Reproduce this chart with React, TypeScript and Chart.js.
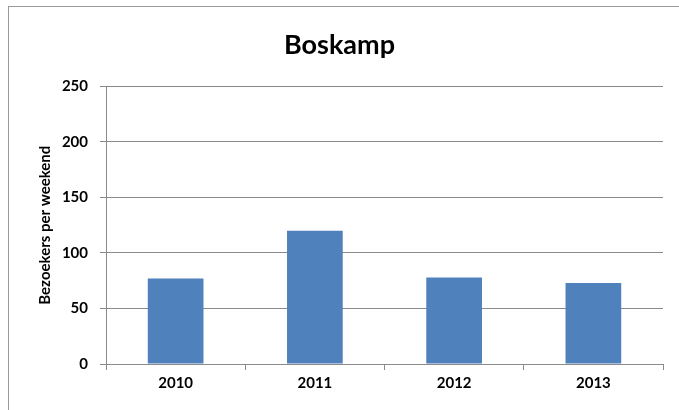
import React, { useEffect, useRef } from "react";
import { Chart, registerables } from "chart.js";

Chart.register(...registerables);

const categories = ["2010", "2011", "2012", "2013"];
const visitors = [77, 120, 78, 73];
const yTicks = [0, 50, 100, 150, 200, 250];
const chartTitle = "Boskamp";
const yTitle = "Bezoekers per weekend";

const FONT = "Lato, 'Open Sans', sans-serif";
const GRID = "#8a8a8a";

export default function App() {
  const ref = useRef<HTMLCanvasElement | null>(null);

  useEffect(() => {
    document.body.style.margin = "0";
    const ctx = ref.current;
    if (!ctx) return;
    const chart = new Chart(ctx, {
      type: "bar",
      data: {
        labels: categories,
        datasets: [
          {
            data: visitors,
            backgroundColor: "#4F81BD",
            borderWidth: 0,
            barPercentage: 0.4,
            categoryPercentage: 1,
          },
        ],
      },
      options: {
        responsive: false,
        animation: false,
        layout: { padding: { left: 16, right: 16, top: 0, bottom: 0 } },
        plugins: {
          legend: { display: false },
          tooltip: { enabled: false },
          title: {
            display: true,
            text: chartTitle,
            color: "#000",
            font: { family: FONT, size: 27, weight: "bold", lineHeight: 1.2 },
            padding: { top: 29, bottom: 25 },
          },
        },
        scales: {
          x: {
            grid: {
              display: true,
              drawOnChartArea: false,
              drawTicks: true,
              tickLength: 6,
              color: GRID,
              lineWidth: 1,
            },
            border: { display: true, color: GRID, width: 1 },
            ticks: {
              color: "#000",
              font: { family: FONT, size: 15, weight: "bold" },
              padding: 4,
            },
            afterFit: (s: any) => {
              s.height = 46;
            },
          },
          y: {
            min: 0,
            max: 250,
            afterBuildTicks: (s: any) => {
              s.ticks = yTicks.map((v) => ({ value: v }));
            },
            grid: {
              color: GRID,
              lineWidth: 1,
              drawTicks: true,
              tickLength: 6,
            },
            border: { display: true, color: GRID, width: 1 },
            ticks: {
              color: "#000",
              font: { family: FONT, size: 15, weight: "bold" },
              padding: 12,
            },
            title: {
              display: true,
              text: yTitle,
              color: "#000",
              font: { family: FONT, size: 15, weight: "bold", lineHeight: 1.2 },
              padding: { top: 20, bottom: 0 },
            },
            afterFit: (s: any) => {
              s.width = 90;
            },
          },
        },
      },
    });
    return () => chart.destroy();
  }, []);

  return (
    <div
      style={{
        position: "absolute",
        left: 0,
        top: 0,
        width: 679,
        height: 410,
        overflow: "hidden",
        background: "#fff",
      }}
    >
      <div
        style={{
          position: "absolute",
          left: 8,
          top: 6,
          width: 720,
          height: 460,
          border: "1.5px solid #9a9a9a",
        }}
      />
      <canvas
        ref={ref}
        width={679}
        height={410}
        style={{ position: "absolute", left: 0, top: 0 }}
      />
    </div>
  );
}
